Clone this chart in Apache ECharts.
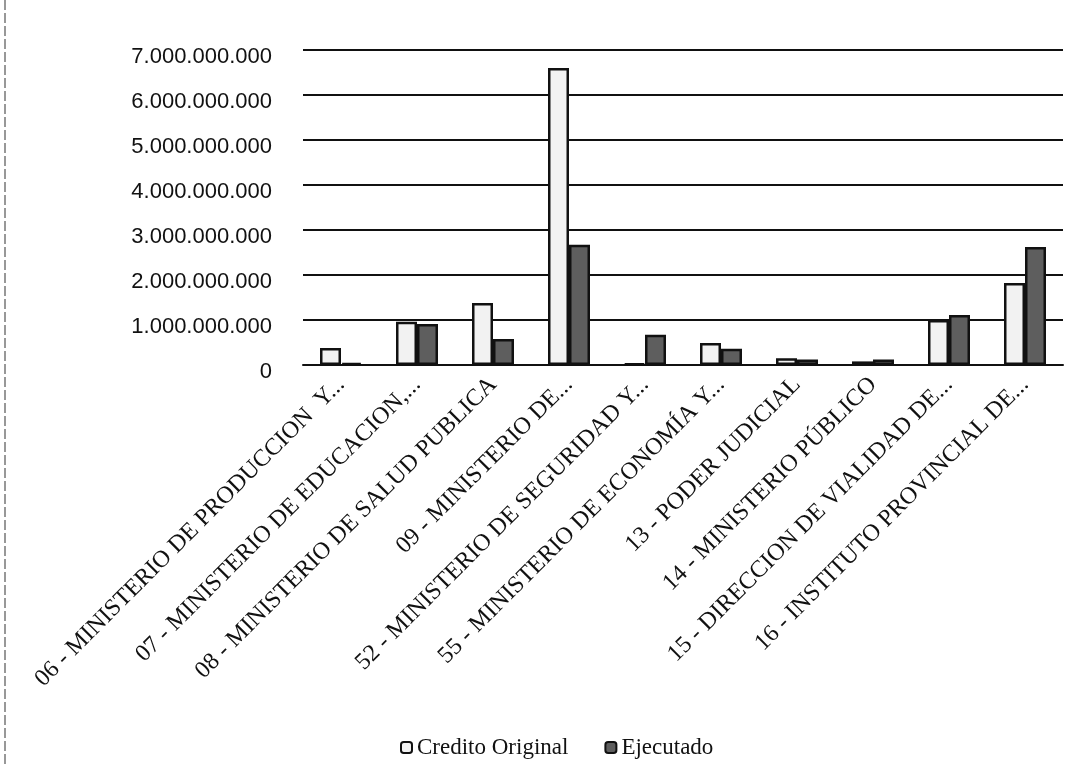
<!DOCTYPE html>
<html>
<head>
<meta charset="utf-8">
<script src="https://cdn.jsdelivr.net/npm/echarts@6/dist/echarts.min.js"></script>
<style>html,body{margin:0;padding:0;background:#fff;}#c{width:1070px;height:764px;}</style>
</head>
<body>
<div id="c"></div>
<script>
const categories = [
  "06 - MINISTERIO DE PRODUCCION  Y...",
  "07 - MINISTERIO DE EDUCACION,...",
  "08 - MINISTERIO DE SALUD PUBLICA",
  "09 - MINISTERIO DE...",
  "52 - MINISTERIO DE SEGURIDAD Y...",
  "55 - MINISTERIO DE ECONOMÍA Y...",
  "13 - PODER JUDICIAL",
  "14 - MINISTERIO PÚBLICO",
  "15 - DIRECCION DE VIALIDAD DE...",
  "16 - INSTITUTO PROVINCIAL DE..."
];
const creditoOriginal = [380000000, 960000000, 1380000000, 6600000000, 30000000, 490000000, 150000000, 80000000, 1000000000, 1820000000];
const ejecutado = [50000000, 910000000, 580000000, 2670000000, 670000000, 360000000, 120000000, 120000000, 1110000000, 2620000000];
const yTicks = [0, 1000000000, 2000000000, 3000000000, 4000000000, 5000000000, 6000000000, 7000000000];

const fmt = v => String(Math.round(v)).replace(/\B(?=(\d{3})+(?!\d))/g, '.');

const chart = echarts.init(document.getElementById('c'));
chart.setOption({
  animation: false,
  backgroundColor: '#fff',
  grid: { left: 303, right: 7, top: 50, bottom: 399 },
  graphic: [{
    type: 'line', shape: { x1: 5, y1: 0, x2: 5, y2: 764 },
    style: { stroke: '#777', lineWidth: 1.5, lineDash: [10, 3] }, silent: true
  }],
  legend: {
    top: 731, left: 395,
    itemWidth: 11, itemHeight: 11, itemGap: 36,
    textStyle: { fontFamily: 'Liberation Serif', fontSize: 23, color: '#111' },
    data: ['Credito Original', 'Ejecutado']
  },
  xAxis: {
    type: 'category',
    data: categories,
    axisTick: { show: false },
    axisLine: { show: true, lineStyle: { color: '#111', width: 2 } },
    axisLabel: {
      interval: 0, rotate: 45, margin: 16,
      fontFamily: 'Liberation Serif', fontSize: 24, color: '#111'
    }
  },
  yAxis: {
    type: 'value',
    min: yTicks[0], max: yTicks[yTicks.length - 1], interval: 1000000000,
    axisLine: { show: false },
    axisTick: { show: false },
    splitLine: { lineStyle: { color: '#111', width: 2 } },
    axisLabel: {
      margin: 31, verticalAlign: 'top', lineHeight: 14,
      fontFamily: 'Liberation Sans', fontSize: 22, color: '#111',
      formatter: fmt
    }
  },
  series: [
    {
      name: 'Credito Original', type: 'bar', data: creditoOriginal,
      barWidth: 21, barGap: '0%',
      itemStyle: { color: '#f2f2f2', borderColor: '#111', borderWidth: 2.5 }
    },
    {
      name: 'Ejecutado', type: 'bar', data: ejecutado,
      barWidth: 21,
      itemStyle: { color: '#5e5e5e', borderColor: '#111', borderWidth: 2.5 }
    }
  ]
});
</script>
</body>
</html>
